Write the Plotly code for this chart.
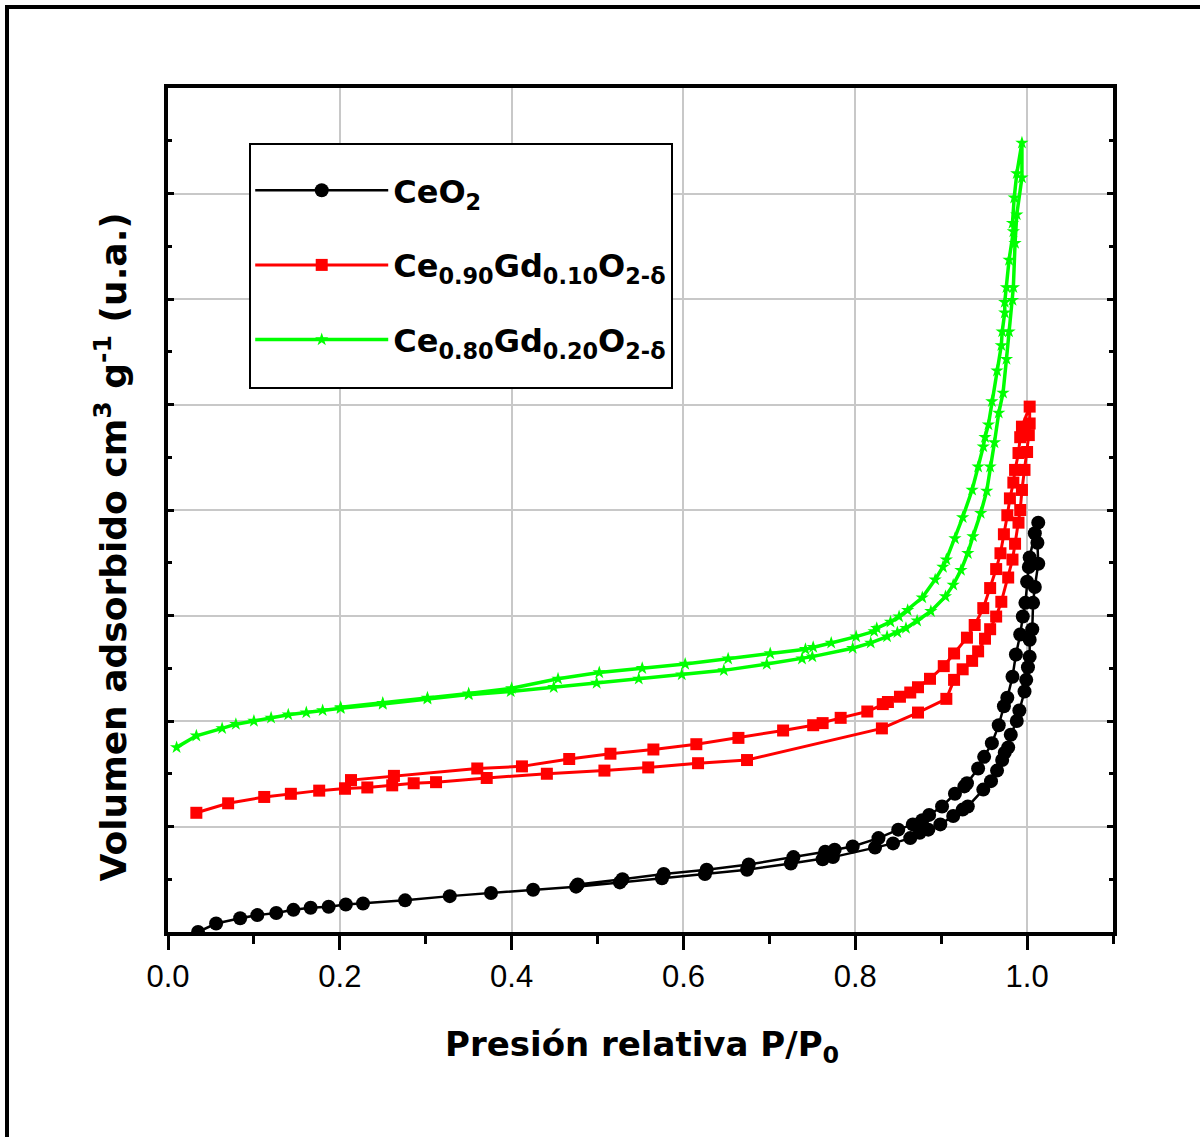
import plotly.graph_objects as go

# ---------------- data ----------------
series_names = ["CeO<sub>2</sub>",
                "Ce<sub>0.90</sub>Gd<sub>0.10</sub>O<sub>2-δ</sub>",
                "Ce<sub>0.80</sub>Gd<sub>0.20</sub>O<sub>2-δ</sub>"]

ceo2_ads_x = [0.035, 0.056, 0.084, 0.104, 0.126, 0.146, 0.166, 0.187, 0.207, 0.227,
              0.276, 0.328, 0.376, 0.425, 0.475, 0.526, 0.575, 0.625, 0.674, 0.725,
              0.762, 0.774, 0.823, 0.844, 0.864, 0.875, 0.885, 0.899, 0.914, 0.925,
              0.931, 0.949, 0.958, 0.965, 0.971, 0.974, 0.978, 0.981, 0.988, 0.991,
              0.997, 0.999, 1.001, 1.003, 1.003, 1.006, 1.007, 1.009, 1.013, 1.012, 1.013]
ceo2_ads_y = [0.00, 0.08, 0.13, 0.16, 0.18, 0.21, 0.23, 0.24, 0.26, 0.27,
              0.30, 0.34, 0.37, 0.40, 0.43, 0.47, 0.51, 0.55, 0.59, 0.65,
              0.69, 0.71, 0.80, 0.84, 0.89, 0.94, 0.97, 1.02, 1.10, 1.16,
              1.19, 1.35, 1.43, 1.53, 1.63, 1.70, 1.75, 1.87, 2.00, 2.10,
              2.28, 2.39, 2.51, 2.61, 2.77, 2.87, 3.12, 3.27, 3.49, 3.69, 3.88]
ceo2_des_x = [1.009, 1.003, 1.002, 1.000, 0.998, 0.995, 0.992, 0.987, 0.983, 0.977,
              0.973, 0.967, 0.959, 0.950, 0.943, 0.930, 0.927, 0.916, 0.901, 0.886,
              0.878, 0.867, 0.850, 0.827, 0.797, 0.776, 0.765, 0.728, 0.676, 0.627,
              0.577, 0.529, 0.477]
ceo2_des_y = [3.78, 3.55, 3.46, 3.32, 3.12, 2.99, 2.82, 2.63, 2.42, 2.22,
              2.14, 1.96, 1.79, 1.66, 1.55, 1.41, 1.38, 1.31, 1.19, 1.11,
              1.06, 1.02, 0.97, 0.89, 0.81, 0.78, 0.76, 0.71, 0.64, 0.59,
              0.55, 0.50, 0.45]

gd10_ads_x = [0.033, 0.070, 0.112, 0.143, 0.176, 0.206, 0.232, 0.261, 0.286, 0.312,
              0.371, 0.441, 0.508, 0.559, 0.617, 0.674, 0.831, 0.873, 0.906, 0.915,
              0.925, 0.936, 0.943, 0.951, 0.957, 0.964, 0.970, 0.978, 0.983, 0.986,
              0.990, 0.992, 0.994, 0.997, 1.000, 1.002, 1.003, 1.003]
gd10_ads_y = [1.13, 1.22, 1.28, 1.31, 1.34, 1.36, 1.37, 1.39, 1.41, 1.42,
              1.46, 1.50, 1.53, 1.56, 1.60, 1.63, 1.93, 2.08, 2.21, 2.39,
              2.49, 2.57, 2.66, 2.78, 2.87, 2.99, 3.13, 3.36, 3.53, 3.68,
              3.88, 4.00, 4.19, 4.38, 4.55, 4.71, 4.82, 4.98]
gd10_des_x = [0.994, 0.992, 0.990, 0.986, 0.984, 0.980, 0.977, 0.973, 0.969, 0.964,
              0.957, 0.949, 0.939, 0.930, 0.915, 0.903, 0.887, 0.873, 0.864, 0.852,
              0.838, 0.832, 0.814, 0.783, 0.762, 0.751, 0.716, 0.664, 0.615, 0.565,
              0.515, 0.467, 0.412, 0.360, 0.263, 0.213, 0.206]
gd10_des_y = [4.79, 4.69, 4.54, 4.38, 4.26, 4.11, 3.95, 3.77, 3.59, 3.44,
              3.26, 3.07, 2.91, 2.79, 2.64, 2.52, 2.40, 2.32, 2.27, 2.23,
              2.18, 2.16, 2.09, 2.03, 1.98, 1.96, 1.91, 1.84, 1.78, 1.73,
              1.69, 1.64, 1.57, 1.55, 1.48, 1.44, 1.36]

gd20_ads_x = [0.010, 0.033, 0.063, 0.079, 0.100, 0.120, 0.140, 0.161, 0.180, 0.201,
              0.250, 0.302, 0.350, 0.399, 0.449, 0.499, 0.548, 0.598, 0.647, 0.697,
              0.738, 0.750, 0.797, 0.818, 0.837, 0.849, 0.859, 0.872, 0.888, 0.905,
              0.914, 0.923, 0.931, 0.937, 0.946, 0.953, 0.957, 0.962, 0.967, 0.972,
              0.976, 0.979, 0.983, 0.984, 0.986, 0.988, 0.994, 0.994]
gd20_ads_y = [1.75, 1.86, 1.93, 1.97, 2.00, 2.03, 2.06, 2.08, 2.10, 2.12,
              2.16, 2.21, 2.25, 2.28, 2.32, 2.36, 2.40, 2.44, 2.48, 2.54,
              2.59, 2.61, 2.69, 2.74, 2.80, 2.84, 2.88, 2.95, 3.04, 3.18,
              3.29, 3.43, 3.59, 3.75, 3.97, 4.18, 4.41, 4.64, 4.92, 5.11,
              5.43, 5.69, 5.99, 6.11, 6.53, 6.80, 7.15, 7.48]
gd20_des_x = [0.988, 0.985, 0.983, 0.984, 0.979, 0.976, 0.974, 0.974, 0.971, 0.970,
              0.965, 0.959, 0.955, 0.951, 0.949, 0.943, 0.936, 0.925, 0.916, 0.906,
              0.902, 0.893, 0.878, 0.861, 0.851, 0.841, 0.825, 0.822, 0.801, 0.772,
              0.751, 0.742, 0.701, 0.652, 0.602, 0.552, 0.502, 0.454, 0.400, 0.350,
              0.302, 0.250, 0.201]
gd20_des_y = [7.19, 6.96, 6.72, 6.64, 6.37, 6.11, 5.97, 5.87, 5.69, 5.56,
              5.32, 5.03, 4.81, 4.69, 4.60, 4.41, 4.19, 3.93, 3.73, 3.53,
              3.46, 3.34, 3.17, 3.05, 2.99, 2.94, 2.88, 2.85, 2.80, 2.74,
              2.70, 2.68, 2.64, 2.59, 2.54, 2.50, 2.46, 2.40, 2.31, 2.26,
              2.22, 2.17, 2.13]

x_tick_vals = [0.0, 0.2, 0.4, 0.6, 0.8, 1.0]
x_tick_text = ["0.0", "0.2", "0.4", "0.6", "0.8", "1.0"]

# ---------------- figure ----------------
BOLD = "DejaVu Sans"
fig = go.Figure()

styles = [
    dict(color="#000000", symbol="circle", size=14, width=2.5),
    dict(color="#ff0000", symbol="square", size=12, width=3),
    dict(color="#00ff00", symbol="star", size=10, width=3.5),
]
xs = [ceo2_ads_x + ceo2_des_x, gd10_ads_x + gd10_des_x, gd20_ads_x + gd20_des_x]
ys = [ceo2_ads_y + ceo2_des_y, gd10_ads_y + gd10_des_y, gd20_ads_y + gd20_des_y]

for i, (name, x, y, st) in enumerate(zip(series_names, xs, ys, styles)):
    fig.add_trace(go.Scatter(
        x=x, y=y, name=name, mode="lines+markers", legendgroup=f"g{i}",
        line=dict(color=st["color"], width=st["width"]),
        marker=dict(color=st["color"], symbol=st["symbol"], size=st["size"],
                    line=dict(width=0)),
    ))

fig.update_layout(
    width=1200, height=1137,
    margin=dict(l=168, r=87, t=88, b=205),
    paper_bgcolor="white", plot_bgcolor="white",
    showlegend=True,
    legend=dict(
        x=0.087, y=(932 - 163) / 844, xanchor="left", yanchor="top",
        borderwidth=0, bgcolor="rgba(0,0,0,0)",
        font=dict(family=BOLD, size=32, color="black", weight="bold"),
        itemwidth=133, tracegroupgap=30,
    ),
    font=dict(family="Liberation Sans, Arial", color="black"),
)

fig.update_xaxes(
    range=[0, 1.1], tickvals=x_tick_vals, ticktext=x_tick_text,
    ticks="outside", ticklen=14, tickwidth=3, tickcolor="black",
    tickfont=dict(family="Liberation Sans, Arial", size=31, color="black"),
    showline=True, linecolor="black", linewidth=3.5, mirror=True,
    showgrid=True, gridcolor="#c8c8c8", gridwidth=1.5, zeroline=False,
    minor=dict(dtick=0.1, tick0=0, ticks="outside", ticklen=8, tickwidth=3,
               tickcolor="black", showgrid=False),
)
fig.update_yaxes(
    range=[0, 8], dtick=1, tick0=0, showticklabels=False,
    ticks="inside", ticklen=6, tickwidth=3, tickcolor="black",
    showline=True, linecolor="black", linewidth=3.5, mirror="ticks",
    showgrid=True, gridcolor="#c8c8c8", gridwidth=1.5, zeroline=False,
    minor=dict(dtick=0.5, ticks="inside", ticklen=4, tickwidth=3,
               tickcolor="black", showgrid=False),
)

# axis titles
fig.add_annotation(
    text="Presión relativa P/P<sub>0</sub>", xref="paper", yref="paper",
    x=0.502, y=-0.107, xanchor="center", yanchor="top", showarrow=False,
    font=dict(family=BOLD, size=34, color="black", weight="bold"),
)
fig.add_annotation(
    text="Volumen adsorbido cm<sup>3</sup> g<sup>-1</sup> (u.a.)",
    xref="paper", yref="paper", x=-0.06, y=0.456, textangle=-90,
    xanchor="center", yanchor="middle", showarrow=False,
    font=dict(family=BOLD, size=36, color="black", weight="bold"),
)

# legend box
fig.add_shape(type="rect", xref="paper", yref="paper",
              x0=(250 - 168) / 945, x1=(672 - 168) / 945,
              y0=(932 - 388) / 844, y1=(932 - 144) / 844,
              line=dict(color="black", width=2), fillcolor="white",
              layer="above")

# outer frame
fig.add_shape(type="rect", xref="paper", yref="paper",
              x0=(7 - 168) / 945, x1=(1210 - 168) / 945,
              y0=(932 - 1150) / 844, y1=(932 - 7) / 844,
              line=dict(color="black", width=4), fillcolor="rgba(0,0,0,0)",
              layer="below")

fig.write_html("out.html", config={"displayModeBar": False},
               post_script="document.body.style.margin='0';")
